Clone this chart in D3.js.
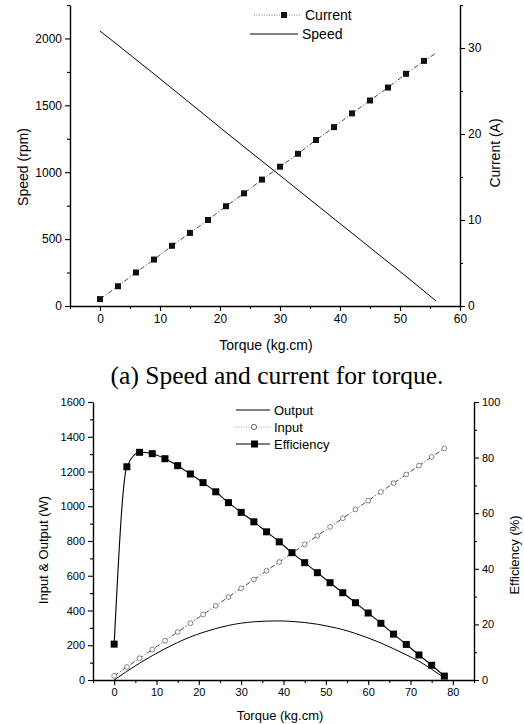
<!DOCTYPE html>
<html>
<head>
<meta charset="utf-8">
<script src="https://cdn.jsdelivr.net/npm/d3@7"></script>
<style>
  body { margin: 0; background: #fff; }
  svg { display: block; }
  .axis text { font-family: Arial, "Liberation Sans", sans-serif; fill: #000; }
  .axis path, .axis line { stroke: #000; }
  .lbl { font-family: Arial, "Liberation Sans", sans-serif; fill: #000; }
</style>
</head>
<body>
<svg width="524" height="724"></svg>
<script>
// ---- data: (a) speed and current
var torqueA = [0, 3, 6, 9, 12, 15, 18, 21, 24, 27, 30, 33, 36, 39, 42, 45, 48, 51, 54, 56];
var speed   = [2055, 1950, 1842, 1735, 1626, 1517, 1408, 1298, 1190, 1083, 976, 868, 760, 652, 545, 437, 329, 222, 112, 38];
var current = [0.8, 2.3, 3.9, 5.4, 7.0, 8.5, 10.0, 11.6, 13.1, 14.7, 16.2, 17.7, 19.3, 20.8, 22.4, 23.9, 25.4, 27.0, 28.5, 29.4];

// ---- data: (b) input, output, efficiency
var torqueB    = [0, 3, 6, 9, 12, 15, 18, 21, 24, 27, 30, 33, 36, 39, 42, 45, 48, 51, 54, 57, 60, 63, 66, 69, 72, 75, 78];
var outputW    = [0, 50, 97, 140, 180, 216, 248, 274, 296, 314, 327, 335, 339, 340, 337, 331, 321, 307, 290, 268, 242, 213, 180, 145, 108, 62, 12];
var inputW     = [24, 75, 125, 175, 226, 276, 327, 377, 427, 478, 528, 578, 629, 679, 730, 780, 830, 881, 931, 982, 1032, 1082, 1133, 1183, 1234, 1284, 1333];
var efficiency = [12.9, 76.7, 81.9, 81.4, 79.6, 77.1, 74.1, 71.0, 67.7, 63.8, 60.3, 56.9, 53.3, 49.7, 45.8, 42.2, 38.6, 35.0, 31.4, 27.8, 24.1, 20.4, 16.5, 12.8, 9.0, 5.3, 1.4];

var svg = d3.select("svg");
svg.append("rect").attr("width", 524).attr("height", 724).attr("fill", "#fff");

var fmt = d3.format("d");

function drawAxis(g, axis, minor, size) {
  g.call(axis.tickFormat(fmt));
  g.call(minor);
  g.selectAll("text").style("font-size", size + "px");
  g.select(".domain").attr("stroke-width", 1.4);
  g.selectAll(".tick line").attr("stroke-width", 1.1);
}

// ================= (a) =================
var x1 = d3.scaleLinear().domain([-5, 60]).range([70, 460]);
var yL1 = d3.scaleLinear().domain([0, 2250]).range([306, 5]);
var yR1 = d3.scaleLinear().domain([0, 35]).range([306, 5]);

var gA = svg.append("g");

var axA = gA.append("g").attr("class", "axis").attr("transform", "translate(0,306)");
drawAxis(axA,
  d3.axisBottom(x1).tickValues(d3.range(0, 61, 10)).tickSize(5).tickSizeOuter(0),
  function(s) { s.append("g").call(d3.axisBottom(x1).tickValues(d3.range(-5, 60, 10)).tickSize(3).tickSizeOuter(0).tickFormat("")).select(".domain").remove(); },
  12);
var ayA = gA.append("g").attr("class", "axis").attr("transform", "translate(70,0)");
drawAxis(ayA,
  d3.axisLeft(yL1).tickValues(d3.range(0, 2001, 500)).tickSize(5).tickSizeOuter(0),
  function(s) { s.append("g").call(d3.axisLeft(yL1).tickValues(d3.range(250, 2251, 500)).tickSize(3).tickSizeOuter(0).tickFormat("")).select(".domain").remove(); },
  12);
var ayA2 = gA.append("g").attr("class", "axis").attr("transform", "translate(460,0)");
drawAxis(ayA2,
  d3.axisRight(yR1).tickValues([0, 10, 20, 30]).tickSize(5).tickSizeOuter(0),
  function(s) { s.append("g").call(d3.axisRight(yR1).tickValues([5, 15, 25, 35]).tickSize(3).tickSizeOuter(0).tickFormat("")).select(".domain").remove(); },
  12);

// speed line
gA.append("path")
  .datum(torqueA.map(function(t, i) { return [t, speed[i]]; }))
  .attr("fill", "none").attr("stroke", "#000").attr("stroke-width", 1)
  .attr("d", d3.line().x(function(d) { return x1(d[0]); }).y(function(d) { return yL1(d[1]); }));

// current line + markers
var curPts = torqueA.map(function(t, i) { return [t, current[i]]; });
gA.append("path")
  .datum(curPts)
  .attr("fill", "none").attr("stroke", "#333").attr("stroke-width", 0.9)
  .attr("stroke-dasharray", "5,2,1,2")
  .attr("d", d3.line().x(function(d) { return x1(d[0]); }).y(function(d) { return yR1(d[1]); }));
gA.selectAll("rect.cur")
  .data(curPts.filter(function(d) { return d[0] % 3 === 0; }))
  .enter().append("rect")
    .attr("class", "cur")
    .attr("x", function(d) { return x1(d[0]) - 3; })
    .attr("y", function(d) { return yR1(d[1]) - 3; })
    .attr("width", 6).attr("height", 6)
    .attr("fill", "#111");

// legend (a)
gA.append("line").attr("x1", 254).attr("x2", 301).attr("y1", 15).attr("y2", 15)
  .attr("stroke", "#666").attr("stroke-width", 0.9).attr("stroke-dasharray", "1,1.5");
gA.append("rect").attr("x", 281).attr("y", 12).attr("width", 6).attr("height", 6).attr("fill", "#111");
gA.append("text").attr("class", "lbl").attr("x", 305).attr("y", 15).attr("dy", "0.35em")
  .style("font-size", "14px").text("Current");
gA.append("line").attr("x1", 250).attr("x2", 298).attr("y1", 34).attr("y2", 34)
  .attr("stroke", "#000").attr("stroke-width", 1);
gA.append("text").attr("class", "lbl").attr("x", 302).attr("y", 34).attr("dy", "0.35em")
  .style("font-size", "14px").text("Speed");

// axis titles (a)
gA.append("text").attr("class", "lbl").attr("transform", "translate(23,167) rotate(-90)")
  .attr("text-anchor", "middle").attr("dy", "0.35em").style("font-size", "14px").text("Speed (rpm)");
gA.append("text").attr("class", "lbl").attr("transform", "translate(495,153) rotate(-90)")
  .attr("text-anchor", "middle").attr("dy", "0.35em").style("font-size", "14px").text("Current (A)");
gA.append("text").attr("class", "lbl").attr("x", 266).attr("y", 345)
  .attr("text-anchor", "middle").attr("dy", "0.35em").style("font-size", "14px").text("Torque (kg.cm)");

// caption
svg.append("text").attr("x", 277).attr("y", 384).attr("text-anchor", "middle")
  .style("font-family", "'Liberation Serif', 'Times New Roman', serif").style("font-size", "25.5px")
  .text("(a) Speed and current for torque.");

// ================= (b) =================
var x2 = d3.scaleLinear().domain([-5, 85]).range([93, 474]);
var yL2 = d3.scaleLinear().domain([0, 1600]).range([680, 402]);
var yR2 = d3.scaleLinear().domain([0, 100]).range([680, 402]);

var gB = svg.append("g");

var axB = gB.append("g").attr("class", "axis").attr("transform", "translate(0,680)");
drawAxis(axB,
  d3.axisBottom(x2).tickValues(d3.range(0, 81, 10)).tickSize(5).tickSizeOuter(0),
  function(s) { s.append("g").call(d3.axisBottom(x2).tickValues(d3.range(-5, 86, 10)).tickSize(3).tickSizeOuter(0).tickFormat("")).select(".domain").remove(); },
  11);
var ayB = gB.append("g").attr("class", "axis").attr("transform", "translate(93,0)");
drawAxis(ayB,
  d3.axisLeft(yL2).tickValues(d3.range(0, 1601, 200)).tickSize(5).tickSizeOuter(0),
  function(s) { s.append("g").call(d3.axisLeft(yL2).tickValues(d3.range(100, 1600, 200)).tickSize(3).tickSizeOuter(0).tickFormat("")).select(".domain").remove(); },
  11);
var ayB2 = gB.append("g").attr("class", "axis").attr("transform", "translate(474,0)");
drawAxis(ayB2,
  d3.axisRight(yR2).tickValues(d3.range(0, 101, 20)).tickSize(5).tickSizeOuter(0),
  function(s) { s.append("g").call(d3.axisRight(yR2).tickValues(d3.range(10, 100, 20)).tickSize(3).tickSizeOuter(0).tickFormat("")).select(".domain").remove(); },
  11);

// output curve
gB.append("path")
  .datum(torqueB.map(function(t, i) { return [t, outputW[i]]; }))
  .attr("fill", "none").attr("stroke", "#000").attr("stroke-width", 1)
  .attr("d", d3.line().curve(d3.curveMonotoneX).x(function(d) { return x2(d[0]); }).y(function(d) { return yL2(d[1]); }));

// input line + open circles
var inPts = torqueB.map(function(t, i) { return [t, inputW[i]]; });
gB.append("path")
  .datum(inPts)
  .attr("fill", "none").attr("stroke", "#333").attr("stroke-width", 0.9)
  .attr("stroke-dasharray", "5,2,1,2")
  .attr("d", d3.line().x(function(d) { return x2(d[0]); }).y(function(d) { return yL2(d[1]); }));
gB.selectAll("circle.inp")
  .data(inPts)
  .enter().append("circle")
    .attr("class", "inp")
    .attr("cx", function(d) { return x2(d[0]); })
    .attr("cy", function(d) { return yL2(d[1]); })
    .attr("r", 2.4)
    .attr("fill", "#fff").attr("stroke", "#666").attr("stroke-width", 0.8);

// efficiency line + squares
var effPts = torqueB.map(function(t, i) { return [t, efficiency[i]]; });
gB.append("path")
  .datum(effPts)
  .attr("fill", "none").attr("stroke", "#000").attr("stroke-width", 1.1)
  .attr("d", d3.line().curve(d3.curveMonotoneX).x(function(d) { return x2(d[0]); }).y(function(d) { return yR2(d[1]); }));
gB.selectAll("rect.eff")
  .data(effPts)
  .enter().append("rect")
    .attr("class", "eff")
    .attr("x", function(d) { return x2(d[0]) - 3.5; })
    .attr("y", function(d) { return yR2(d[1]) - 3.5; })
    .attr("width", 7).attr("height", 7)
    .attr("fill", "#000");

// legend (b)
gB.append("line").attr("x1", 236).attr("x2", 270).attr("y1", 410).attr("y2", 410)
  .attr("stroke", "#000").attr("stroke-width", 1);
gB.append("text").attr("class", "lbl").attr("x", 274).attr("y", 410).attr("dy", "0.35em")
  .style("font-size", "13px").text("Output");
gB.append("line").attr("x1", 236).attr("x2", 270).attr("y1", 427).attr("y2", 427)
  .attr("stroke", "#888").attr("stroke-width", 0.8).attr("stroke-dasharray", "1,1.5");
gB.append("circle").attr("cx", 254).attr("cy", 427).attr("r", 2.6)
  .attr("fill", "#fff").attr("stroke", "#555").attr("stroke-width", 0.9);
gB.append("text").attr("class", "lbl").attr("x", 274).attr("y", 427).attr("dy", "0.35em")
  .style("font-size", "13px").text("Input");
gB.append("line").attr("x1", 236).attr("x2", 270).attr("y1", 444).attr("y2", 444)
  .attr("stroke", "#000").attr("stroke-width", 1.1);
gB.append("rect").attr("x", 251).attr("y", 440.5).attr("width", 7).attr("height", 7).attr("fill", "#000");
gB.append("text").attr("class", "lbl").attr("x", 274).attr("y", 444).attr("dy", "0.35em")
  .style("font-size", "13px").text("Efficiency");

// axis titles (b)
gB.append("text").attr("class", "lbl").attr("transform", "translate(43,550) rotate(-90)")
  .attr("text-anchor", "middle").attr("dy", "0.35em").style("font-size", "13px").text("Input & Output (W)");
gB.append("text").attr("class", "lbl").attr("transform", "translate(514,555) rotate(-90)")
  .attr("text-anchor", "middle").attr("dy", "0.35em").style("font-size", "13px").text("Efficiency (%)");
gB.append("text").attr("class", "lbl").attr("x", 280).attr("y", 715)
  .attr("text-anchor", "middle").attr("dy", "0.35em").style("font-size", "13px").text("Torque (kg.cm)");
</script>
</body>
</html>
